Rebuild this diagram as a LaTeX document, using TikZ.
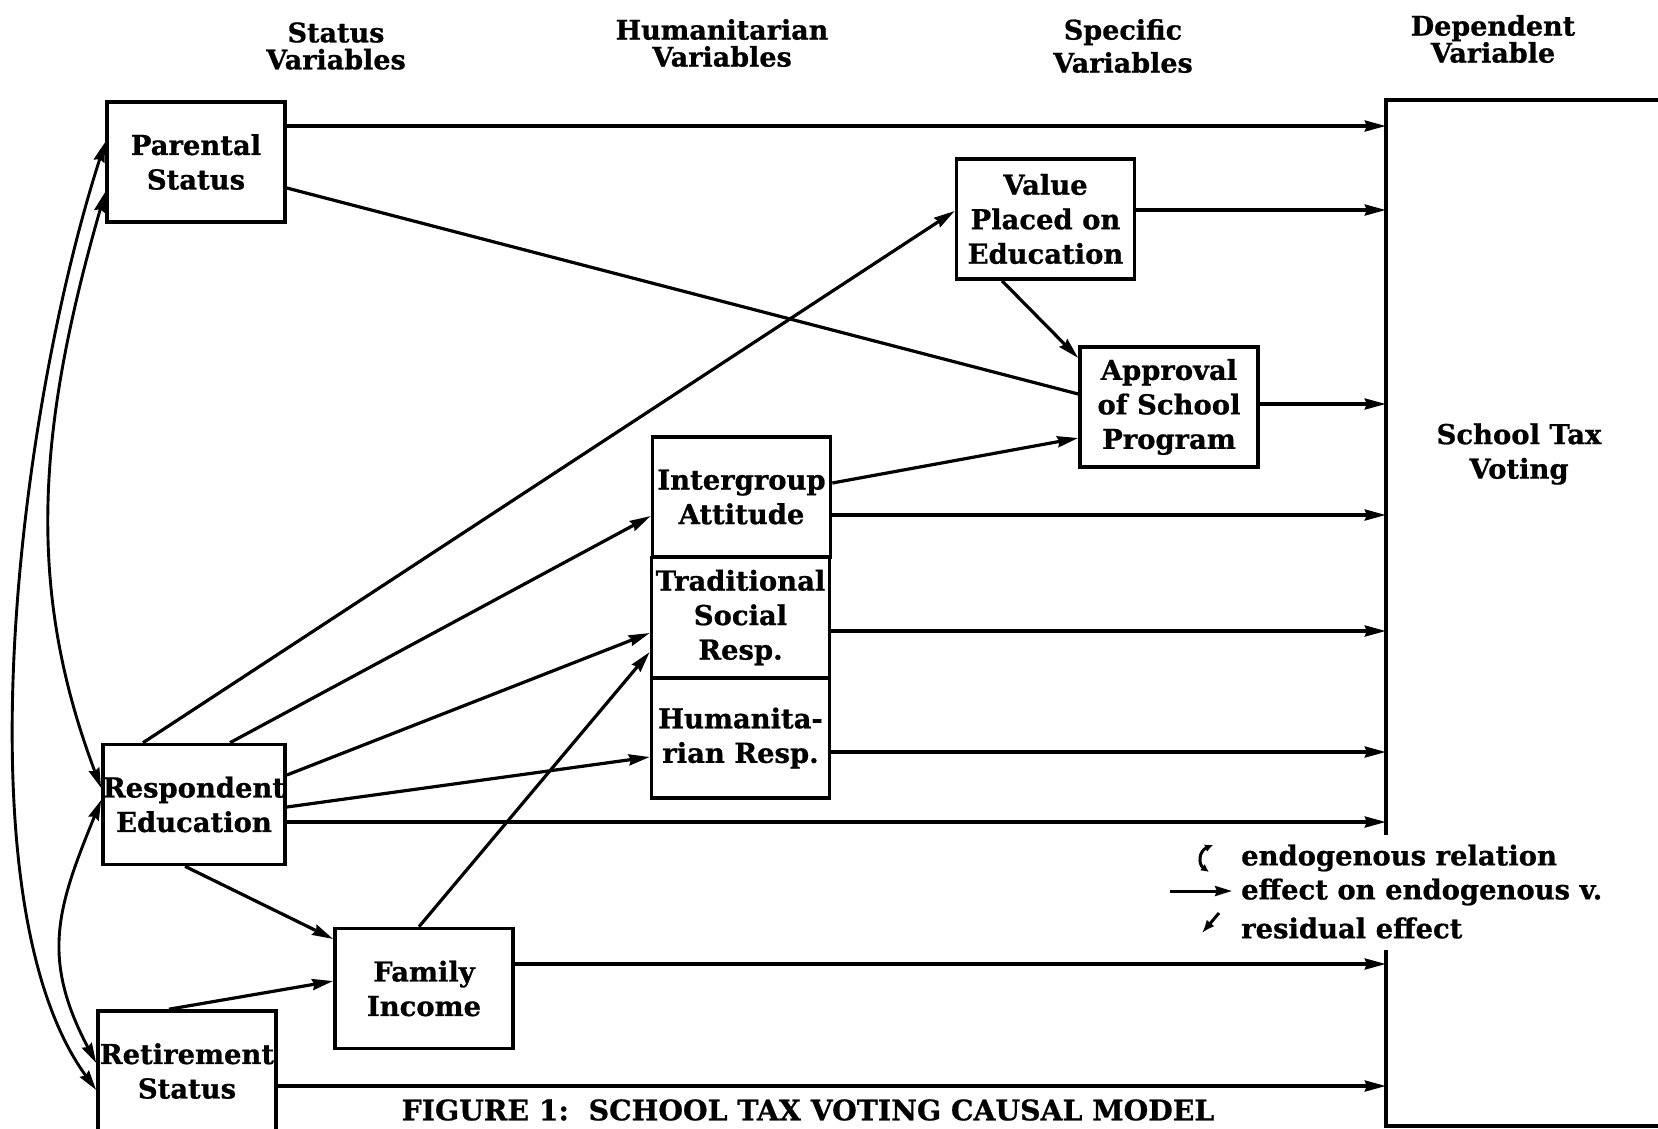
\documentclass[tikz,border=0pt]{standalone}
\usepackage{fontspec}
\setmainfont{DejaVu Serif}[BoldFeatures={FakeBold=0.8}]
\usetikzlibrary{arrows.meta}

\newcommand\dgfont{\bfseries\fontsize{27.4}{34.5}\selectfont}
\newcommand\dghead{\bfseries\fontsize{27}{27}\selectfont}

\begin{document}
\begin{tikzpicture}[x=1pt,y=-1pt,
  box/.style={draw, line width=3.6pt, minimum width=178pt, minimum height=120pt,
              inner sep=0pt, align=center, font=\dgfont},
  head/.style={align=center, inner sep=0pt, font=\dghead},
  arr/.style={line width=3.2pt, -{Stealth[length=21pt,width=11pt,inset=2pt]}},
  plain/.style={line width=3.2pt},
  biarr/.style={line width=2.9pt, {Stealth[length=20pt,width=11pt,inset=2pt]}-{Stealth[length=20pt,width=11pt,inset=2pt]}},
  frame/.style={line width=3.6pt},
  legtxt/.style={anchor=west, inner sep=0pt, font=\dgfont}
]
\fill[white] (0,0) rectangle (1658,1128);
\useasboundingbox (0,0) rectangle (1658,1128);

% column headings
\node[head] (hstat) at (336,46) {Status\\Variables};
\node[head] (hhum) at (722,43) {Humanitarian\\Variables};
\node[head, font=\bfseries\fontsize{27}{33}\selectfont] (hspec) at (1123,46) {Specific\\Variables};
\node[head] (hdep) at (1493,39) {Dependent\\Variable};

% variables
\node[box] (ps)  at (196,162)     {Parental\\Status};
\node[box] (val) at (1045.5,219)  {Value\\Placed on\\Education};
\node[box] (app) at (1169,407)    {Approval\\of School\\Program};
\node[box] (ig)  at (741.5,497)   {Intergroup\\Attitude};
\node[box] (tsr) at (740.5,617.5) {Traditional\\Social\\Resp.};
\node[box] (hr)  at (740.5,738)   {Humanita-\\rian Resp.};
\node[box] (re)  at (194,804.5)   {Respondent\\Education};
\node[box] (fi)  at (424,988.5)   {Family\\Income};
\node[box] (rs)  at (187,1071)    {Retirement\\Status};

% dependent variable (open on the right, broken on the left for the key)
\node[minimum width=320pt, minimum height=1026pt, inner sep=0pt] (vote) at (1546,613) {};
\node[head, font=\dgfont] (votetxt) at (1519,454) {School Tax\\Voting};
\draw[frame] (vote.north east) -- (vote.north west) -- (vote.west |- 0,835);
\draw[frame] (vote.west |- 0,950) -- (vote.south west) -- (vote.south east);

% direct effects on the dependent variable
\draw[arr] (ps.east  |- 0,126)  -- (vote.west |- 0,126);
\draw[arr] (val.east |- 0,210)  -- (vote.west |- 0,210);
\draw[arr] (app.east |- 0,404)  -- (vote.west |- 0,404);
\draw[arr] (ig.east  |- 0,515)  -- (vote.west |- 0,515);
\draw[arr] (tsr.east |- 0,631)  -- (vote.west |- 0,631);
\draw[arr] (hr.east  |- 0,752)  -- (vote.west |- 0,752);
\draw[arr] (re.east  |- 0,822)  -- (vote.west |- 0,822);
\draw[arr] (fi.east  |- 0,964)  -- (vote.west |- 0,964);
\draw[arr] (rs.east  |- 0,1086) -- (vote.west |- 0,1086);

% effects among the explanatory variables
\draw[plain] (ps.east |- 0,188) -- (app.west |- 0,394);
\draw[arr] (1002,0 |- val.south) -- (app.west |- 0,358);
\draw[arr] (ig.east |- 0,483) -- (app.west |- 0,438);
\draw[arr] (143,0 |- re.north) -- (val.west |- 0,211);
\draw[arr] (230,0 |- re.north) -- (ig.west |- 0,516);
\draw[arr] (re.east |- 0,775) -- (tsr.west |- 0,633);
\draw[arr] (re.east |- 0,807) -- (hr.west |- 0,757);
\draw[arr] (185,0 |- re.south) -- (fi.west |- 0,939);
\draw[arr] (419,0 |- fi.north) -- (tsr.west |- 0,652);
\draw[arr] (169,0 |- rs.north) -- (fi.west |- 0,981);

% endogenous relations among the status variables
\draw[biarr] (ps.west |- 0,142) .. controls (16,420) and (-40,903) .. (rs.west |- 0,1090);
\draw[biarr] (ps.west |- 0,192) .. controls (39,423) and (24,584) .. (re.west |- 0,788);
\draw[biarr] (re.west |- 0,800) .. controls (58,906) and (40,957) .. (rs.west |- 0,1063);

% key
\coordinate (k1a) at (1213,845);
\coordinate (k1b) at (1209,872);
\coordinate (k2a) at (1170,891);
\coordinate (k2b) at (1232,891);
\coordinate (k3a) at (1219,913);
\coordinate (k3b) at (1202,933);
\draw[line width=3pt, {Latex[length=8pt,width=8pt]}-{Latex[length=8pt,width=8pt]}]
  (k1a) .. controls (1199,851) and (1198,864) .. (k1b);
\draw[line width=3pt, -{Stealth[length=17pt,width=10pt,inset=2pt]}] (k2a) -- (k2b);
\draw[line width=3pt, -{Latex[length=13pt,width=10pt]}] (k3a) -- (k3b);
\node[legtxt] (l1) at (1241,858) {endogenous relation};
\node[legtxt] (l2) at (1241,892) {effect on endogenous v.};
\node[legtxt] (l3) at (1241,928) {residual effect};

% caption
\node[inner sep=0pt, font=\bfseries\fontsize{28.3}{30}\selectfont] (cap) at (808,1110)
  {FIGURE 1:\ \ SCHOOL TAX VOTING CAUSAL MODEL};
\end{tikzpicture}
\end{document}
